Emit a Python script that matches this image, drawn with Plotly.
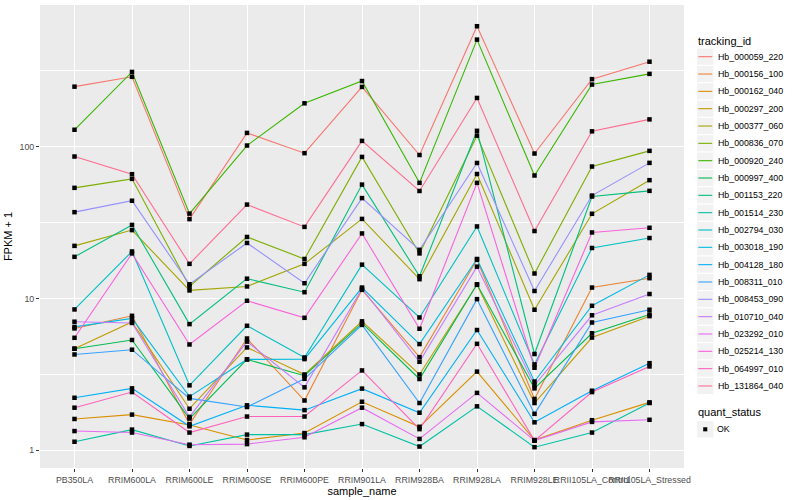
import plotly.graph_objects as go

samples = ["PB350LA", "RRIM600LA", "RRIM600LE", "RRIM600SE", "RRIM600PE", "RRIM901LA",
           "RRIM928BA", "RRIM928LA", "RRIM928LE", "RRII105LA_Control", "RRII105LA_Stressed"]

tracking_ids = ["Hb_000059_220", "Hb_000156_100", "Hb_000162_040", "Hb_000297_200", "Hb_000377_060",
                "Hb_000836_070", "Hb_000920_240", "Hb_000997_400", "Hb_001153_220", "Hb_001514_230",
                "Hb_002794_030", "Hb_003018_190", "Hb_004128_180", "Hb_008311_010", "Hb_008453_090",
                "Hb_010710_040", "Hb_023292_010", "Hb_025214_130", "Hb_064997_010", "Hb_131864_040"]

colors = ["#F8766D", "#EA8331", "#D89000", "#C09B00", "#A3A500", "#7CAE00", "#39B600", "#00BB4E",
          "#00BF7D", "#00C1A3", "#00BFC4", "#00BAE0", "#00B0F6", "#35A2FF", "#9590FF", "#C77CFF",
          "#E76BF3", "#FA62DB", "#FF62BC", "#FF6C91"]

# FPKM + 1 values, one list per tracking_id (order of samples)
hb_000059_220 = [248, 288, 33.3, 123, 90.5, 247, 88, 620, 90, 278, 362]
hb_000156_100 = [6.35, 7.69, 1.49, 5.45, 2.13, 11.4, 4.11, 18.0, 2.18, 11.8, 13.6]
hb_000162_040 = [1.61, 1.72, 1.47, 1.17, 1.30, 2.09, 1.43, 3.3, 1.17, 1.58, 2.07]
hb_000297_200 = [4.67, 7.0, 1.88, 4.76, 3.16, 7.07, 3.16, 12.3, 2.05, 5.53, 7.65]
hb_000377_060 = [22.2, 28.2, 11.3, 12.0, 16.9, 33.4, 13.4, 66, 8.43, 36.1, 60.1]
hb_000836_070 = [53.5, 61.3, 12.0, 25.4, 18.2, 85.5, 19.8, 118, 14.6, 73.9, 93.7]
hb_000920_240 = [129, 310, 36.2, 101.6, 192.7, 270, 57.7, 506, 64.5, 256, 301]
hb_000997_400 = [4.67, 5.33, 1.62, 3.97, 3.1, 6.88, 2.95, 12.4, 2.56, 5.9, 7.85]
hb_001153_220 = [18.8, 30.5, 6.78, 13.5, 11.0, 56.2, 14.0, 127, 4.31, 46.9, 51.1]
hb_001514_230 = [1.14, 1.37, 1.07, 1.27, 1.27, 1.49, 1.06, 1.95, 1.05, 1.31, 2.05]
hb_002794_030 = [8.47, 20.4, 2.68, 6.61, 4.09, 16.7, 7.5, 29.8, 3.68, 21.5, 25.0]
hb_003018_190 = [6.5, 7.4, 2.26, 3.97, 3.99, 11.8, 5.01, 18.2, 2.84, 8.95, 14.3]
hb_004128_180 = [2.22, 2.56, 1.44, 1.98, 1.84, 2.55, 1.77, 6.2, 1.53, 2.47, 3.75]
hb_008311_010 = [4.28, 4.6, 2.2, 1.93, 2.96, 6.7, 2.05, 9.9, 1.74, 6.95, 8.43]
hb_008453_090 = [37, 44, 12.4, 23.2, 12.6, 45.8, 20.9, 78, 11.2, 47.6, 78.1]
hb_010710_040 = [7.03, 6.9, 1.66, 5.2, 2.6, 11.6, 3.83, 16.2, 2.68, 7.75, 10.7]
hb_023292_010 = [1.34, 1.31, 1.09, 1.10, 1.22, 1.91, 1.19, 2.39, 1.16, 1.54, 1.59]
hb_025214_130 = [5.51, 19.8, 4.98, 9.66, 7.46, 26.8, 6.32, 57.7, 3.50, 27.2, 29.2]
hb_064997_010 = [1.91, 2.42, 1.31, 1.67, 1.67, 3.36, 1.38, 5.03, 1.16, 2.42, 3.57]
hb_131864_040 = [86, 65.8, 16.9, 41.5, 29.6, 109, 51, 209, 27.8, 126, 151]

series = [hb_000059_220, hb_000156_100, hb_000162_040, hb_000297_200, hb_000377_060,
          hb_000836_070, hb_000920_240, hb_000997_400, hb_001153_220, hb_001514_230,
          hb_002794_030, hb_003018_190, hb_004128_180, hb_008311_010, hb_008453_090,
          hb_010710_040, hb_023292_010, hb_025214_130, hb_064997_010, hb_131864_040]

quant_status = "OK"

FONT = "Liberation Sans, Arial, Helvetica, sans-serif"
W, H = 800, 500
PL, PR, PT, PB = 40, 684, 5, 468


def px(x):
    return (x - PL) / (PR - PL)


def py(y):
    return (PB - y) / (PB - PT)


fig = go.Figure()

for name, col, vals in zip(tracking_ids, colors, series):
    fig.add_trace(go.Scatter(x=samples, y=vals, mode="lines", name=name,
                             line=dict(color=col, width=1.1), showlegend=False))

all_x = [s for vals in series for s in samples]
all_y = [v for vals in series for v in vals]
fig.add_trace(go.Scatter(x=all_x, y=all_y, mode="markers", name=quant_status,
                         marker=dict(symbol="square", size=4.5, color="black"),
                         showlegend=False))

shapes = []
annotations = []

# tracking_id legend
annotations.append(dict(x=px(695.5), y=py(40.7), xref="paper", yref="paper", text="tracking_id",
                        showarrow=False, xanchor="left", yanchor="middle",
                        font=dict(size=11, color="black", family=FONT)))
for i, (name, col) in enumerate(zip(tracking_ids, colors)):
    c = 56.7 + 17.33 * i
    shapes.append(dict(type="rect", xref="paper", yref="paper", x0=px(696.6), x1=px(713.9),
                       y0=py(c + 8.66), y1=py(c - 8.66), fillcolor="#F2F2F2",
                       line=dict(color="white", width=1), layer="above"))
    shapes.append(dict(type="line", xref="paper", yref="paper", x0=px(698.3), x1=px(712.2),
                       y0=py(c), y1=py(c), line=dict(color=col, width=1.1), layer="above"))
    annotations.append(dict(x=px(716.2), y=py(c), xref="paper", yref="paper", text=name,
                            showarrow=False, xanchor="left", yanchor="middle",
                            font=dict(size=8.8, color="black", family=FONT)))

# quant_status legend
annotations.append(dict(x=px(695.5), y=py(412.3), xref="paper", yref="paper", text="quant_status",
                        showarrow=False, xanchor="left", yanchor="middle",
                        font=dict(size=11, color="black", family=FONT)))
cq = 429.3
shapes.append(dict(type="rect", xref="paper", yref="paper", x0=px(696.6), x1=px(713.9),
                   y0=py(cq + 8.66), y1=py(cq - 8.66), fillcolor="#F2F2F2",
                   line=dict(color="white", width=1), layer="above"))
shapes.append(dict(type="rect", xref="paper", yref="paper", x0=px(703.2), x1=px(707.3),
                   y0=py(cq + 2.05), y1=py(cq - 2.05), fillcolor="black",
                   line=dict(width=0), layer="above"))
annotations.append(dict(x=px(715.2), y=py(cq), xref="paper", yref="paper", text=quant_status,
                        showarrow=False, xanchor="left", yanchor="middle",
                        font=dict(size=8.8, color="black", family=FONT)))

fig.update_layout(
    width=W, height=H,
    margin=dict(l=PL, r=W - PR, t=PT, b=H - PB, autoexpand=False),
    paper_bgcolor="white", plot_bgcolor="#EBEBEB",
    font=dict(family=FONT, color="black"),
    shapes=shapes, annotations=annotations,
    showlegend=False,
)

fig.update_xaxes(
    type="category", range=[-0.6, 10.6],
    showgrid=True, gridcolor="white", gridwidth=1.07,
    zeroline=False, showline=False,
    ticks="outside", ticklen=3, tickwidth=1.07, tickcolor="#333333",
    tickfont=dict(size=8.8, color="#4D4D4D", family=FONT),
    tickangle=0, automargin=False,
    title=dict(text="sample_name", font=dict(size=11, color="black", family=FONT), standoff=2),
)

fig.update_yaxes(
    type="log", range=[-0.116, 2.932],
    tickvals=[1, 10, 100], ticktext=["1", "10", "100"],
    showgrid=True, gridcolor="white", gridwidth=1.07,
    minor=dict(tickvals=[10 ** 0.5, 10 ** 1.5, 10 ** 2.5], showgrid=True,
               gridcolor="white", gridwidth=0.53, ticks=""),
    zeroline=False, showline=False,
    ticks="outside", ticklen=3, tickwidth=1.07, tickcolor="#333333",
    tickfont=dict(size=8.8, color="#4D4D4D", family=FONT),
    automargin=False,
    title=dict(text="FPKM + 1", font=dict(size=11, color="black", family=FONT), standoff=4),
)

fig.write_html("out.html", config={"displayModeBar": False},
               post_script="document.body.style.margin='0';document.body.style.padding='0';")
